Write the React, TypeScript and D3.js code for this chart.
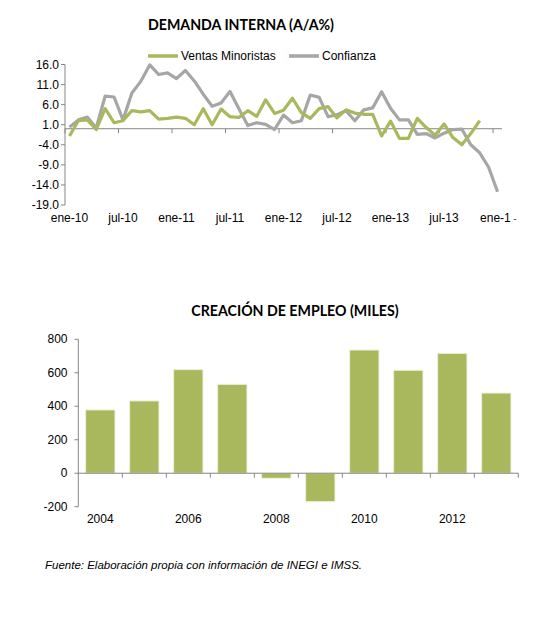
import * as d3 from 'd3'

// --- Demanda interna (A/A%), mensual ene-10 .. ene-14
const months = d3.range(49)
const ventasMinoristas = [
	-1.8, 2.0, 2.2, -0.2, 5.0, 1.5, 2.0, 4.5, 4.2, 4.5, 2.4, 2.6, 2.9, 2.6, 1.0, 5.0, 1.0, 4.9, 3.0, 2.8,
	4.5, 3.1, 7.2, 3.8, 4.6, 7.6, 4.0, 2.6, 5.0, 5.5, 2.7, 4.7, 3.9, 3.6, 3.6, -1.8, 1.9, -2.4, -2.4, 2.6,
	0.3, -1.6, 1.2, -2.2, -4.0, -1.2, 2.0,
]
const confianza = [
	0.4, 2.2, 2.9, 0.2, 8.1, 7.9, 2.2, 8.9, 11.8, 15.9, 13.5, 13.9, 12.5, 14.5, 11.9, 8.6, 5.6, 6.4, 9.3, 5.0,
	0.8, 1.5, 1.1, -0.2, 3.4, 1.5, 2.0, 8.4, 7.8, 3.0, 3.5, 4.5, 2.0, 4.7, 5.2, 9.2, 5.1, 2.2, 2.2, -1.4,
	-1.2, -2.3, -1.1, -0.2, -0.1, -4.0, -6.0, -9.6, -15.7,
]
const monthTicks = [0, 6, 12, 18, 24, 30, 36, 42, 48]
const monthLabels = ['ene-10', 'jul-10', 'ene-11', 'jul-11', 'ene-12', 'jul-12', 'ene-13', 'jul-13', 'ene-1']
const topYTicks = [16, 11, 6, 1, -4, -9, -14, -19]

// --- Creación de empleo (miles)
const years = ['2004', '2005', '2006', '2007', '2008', '2009', '2010', '2011', '2012', '2013']
const empleo = [378, 432, 619, 531, -30, -170, 736, 615, 716, 479]
const bottomYTicks = [800, 600, 400, 200, 0, -200]

const GREEN = '#a9b85c'
const GRAY = '#a6a6a6'
const AXIS = '#868686'
const FONT = 'Liberation Sans, Arial, sans-serif'
const TITLE_FONT = 'Lato, Open Sans, sans-serif'

export default function App() {
	// top chart scales
	const xTop = d3.scaleBand<number>().domain(months).range([65, 502])
	const bw = xTop.bandwidth()
	const cx = (i: number) => (xTop(i) as number) + bw / 2
	const yTop = d3.scaleLinear().domain([-19, 16]).range([205, 64.5])
	const line = d3
		.line<number>()
		.x((d, i) => cx(i))
		.y((d) => yTop(d))

	// bottom chart scales
	const xBot = d3.scaleBand<string>().domain(years).range([78.3, 518.3]).paddingInner(0.333).paddingOuter(0.1665)
	const xBotTicks = d3.scaleBand<string>().domain(years).range([78.3, 518.3])
	const yBot = d3.scaleLinear().domain([-200, 800]).range([506.7, 339.3])

	return (
		<svg width={556} height={630} style={{ position: 'absolute', left: 0, top: 0, background: '#fff' }}>
			{/* ---------- DEMANDA INTERNA ---------- */}
			<text x={241} y={30} textAnchor="middle" fontFamily={TITLE_FONT} fontWeight="bold" fontSize={14.2} fill="#000">
				DEMANDA INTERNA (A/A%)
			</text>
			<line x1={148} x2={178} y1={56} y2={56} stroke={GREEN} strokeWidth={3.5} />
			<text x={181} y={60} fontFamily={FONT} fontSize={12} fill="#000">
				Ventas Minoristas
			</text>
			<line x1={289} x2={319} y1={56} y2={56} stroke={GRAY} strokeWidth={3.5} />
			<text x={322} y={60} fontFamily={FONT} fontSize={12} fill="#000">
				Confianza
			</text>

			{/* y axis */}
			<line x1={65} x2={65} y1={yTop(16)} y2={yTop(-19)} stroke={AXIS} />
			{topYTicks.map((t) => (
				<g key={t}>
					<line x1={61} x2={65} y1={yTop(t)} y2={yTop(t)} stroke={AXIS} />
					<text x={59} y={yTop(t) + 4} textAnchor="end" fontFamily={FONT} fontSize={12} fill="#000">
						{t.toFixed(1)}
					</text>
				</g>
			))}

			{/* x axis at 0 */}
			<line x1={65} x2={502} y1={yTop(0)} y2={yTop(0)} stroke={AXIS} />
			{monthTicks.map((m, k) => (
				<g key={m}>
					<line x1={xTop(m)} x2={xTop(m)} y1={yTop(0)} y2={yTop(0) + 4.5} stroke={AXIS} />
					{k < monthTicks.length - 1 ? (
						<text x={cx(m)} y={222} textAnchor="middle" fontFamily={FONT} fontSize={12} fill="#000">
							{monthLabels[k]}
						</text>
					) : (
						<>
							<text x={cx(m) - 17.5} y={222} fontFamily={FONT} fontSize={12} fill="#000">
								{monthLabels[k]}
							</text>
							<text x={cx(m) + 16} y={222} fontFamily={FONT} fontSize={9} fill="#000">
								-
							</text>
						</>
					)}
				</g>
			))}

			<path d={line(confianza) as string} fill="none" stroke={GRAY} strokeWidth={3.2} strokeLinejoin="round" />
			<path d={line(ventasMinoristas) as string} fill="none" stroke={GREEN} strokeWidth={3.2} strokeLinejoin="round" />

			{/* ---------- CREACIÓN DE EMPLEO ---------- */}
			<text x={295} y={316} textAnchor="middle" fontFamily={TITLE_FONT} fontWeight="bold" fontSize={14.2} fill="#000">
				CREACIÓN DE EMPLEO (MILES)
			</text>

			{empleo.map((v, i) => (
				<rect
					key={years[i]}
					x={xBot(years[i])}
					width={xBot.bandwidth()}
					y={yBot(Math.max(0, v))}
					height={Math.abs(yBot(v) - yBot(0))}
					fill={GREEN}
					stroke="#eef0dc"
					strokeWidth={1}
				/>
			))}

			<line x1={78.3} x2={78.3} y1={yBot(800)} y2={yBot(-200)} stroke={AXIS} />
			{bottomYTicks.map((t) => (
				<g key={t}>
					<line x1={74.5} x2={78.3} y1={yBot(t)} y2={yBot(t)} stroke={AXIS} />
					<text x={67.5} y={yBot(t) + 4} textAnchor="end" fontFamily={FONT} fontSize={12} fill="#000">
						{t}
					</text>
				</g>
			))}
			<line x1={78.3} x2={518.3} y1={yBot(0)} y2={yBot(0)} stroke={AXIS} />
			{years.map((yr, i) => (
				<g key={yr}>
					<line
						x1={(xBotTicks(yr) as number) + xBotTicks.bandwidth()}
						x2={(xBotTicks(yr) as number) + xBotTicks.bandwidth()}
						y1={yBot(0)}
						y2={yBot(0) + 4.5}
						stroke={AXIS}
					/>
					{i % 2 === 0 && (
						<text
							x={(xBotTicks(yr) as number) + xBotTicks.bandwidth() / 2}
							y={523}
							textAnchor="middle"
							fontFamily={FONT}
							fontSize={12}
							fill="#000">
							{yr}
						</text>
					)}
				</g>
			))}

			<text x={45} y={569} fontFamily={FONT} fontStyle="italic" fontSize={11.5} fill="#000">
				Fuente: Elaboración propia con información de INEGI e IMSS.
			</text>
		</svg>
	)
}
